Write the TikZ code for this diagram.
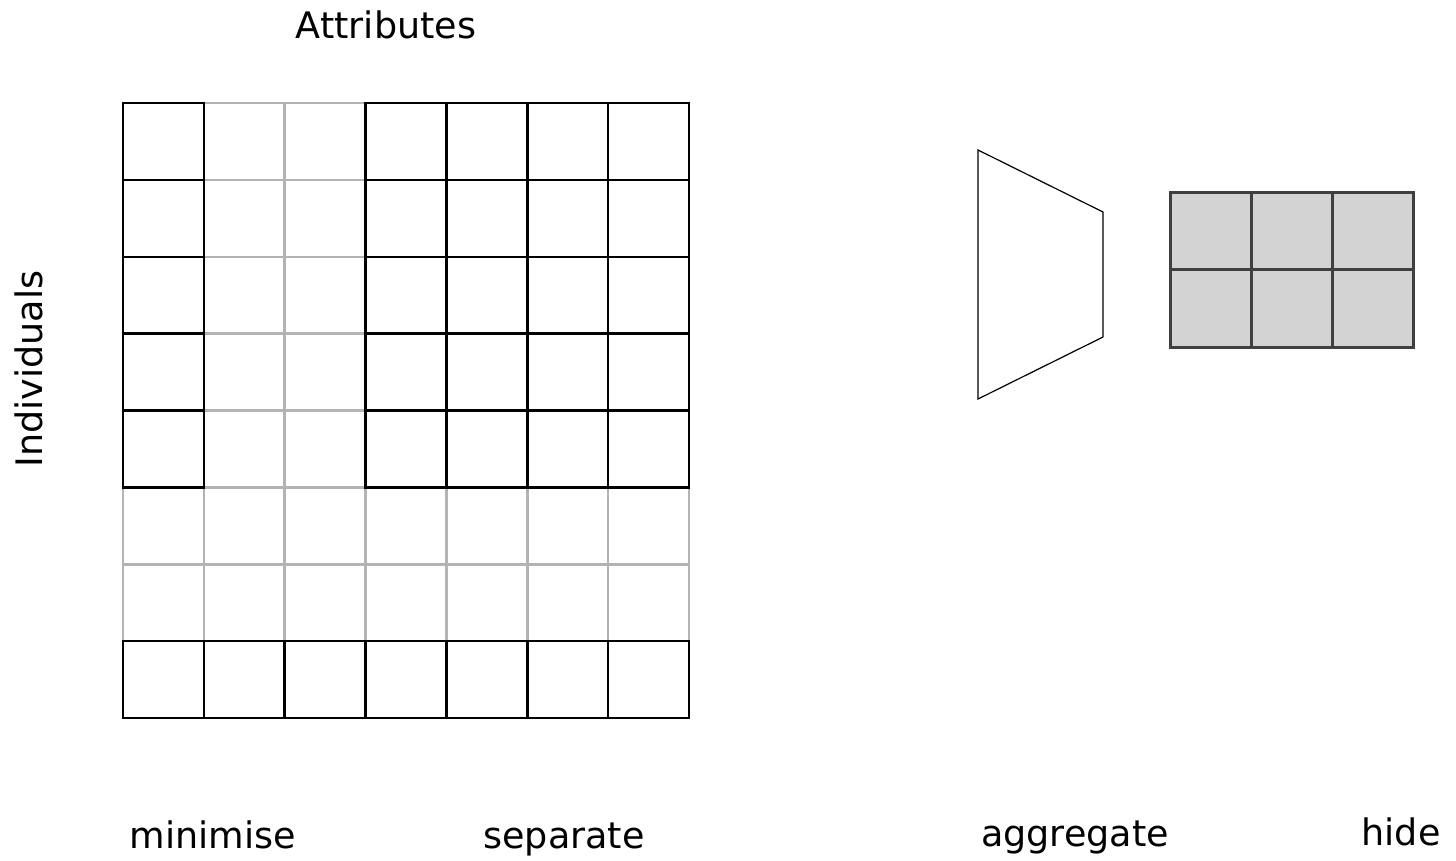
\documentclass[tikz,border=0pt]{standalone}
\usepackage{fontspec}
\setmainfont{DejaVu Sans}
\definecolor{lightline}{HTML}{B3B3B3}
\definecolor{cellfill}{HTML}{D3D3D3}
\definecolor{celldraw}{HTML}{404040}
\begin{document}
\begin{tikzpicture}[x=1pt,y=-1pt,
  label/.style={font=\fontsize{36.5}{40}\selectfont, inner sep=0pt, anchor=base},
  graycell/.style={draw=lightline, line width=2.5pt},
  blackcell/.style={draw=black, line width=2.5pt},
  hidecell/.style={draw=celldraw, fill=cellfill, line width=3pt},
  funnel/.style={draw=black, line width=1.2pt, line join=miter}]
\useasboundingbox (0,0) rectangle (1456,860);
% main grid: 7 columns x 8 rows
\def\gx{123}\def\gy{103}\def\cw{80.857}\def\ch{76.875}
% gray cells first
\foreach \c in {0,...,6}{
  \foreach \r in {0,...,7}{
    \draw[graycell] ({\gx+\c*\cw},{\gy+\r*\ch}) rectangle ++(\cw,\ch);
  }
}
% black cells: columns 0,3,4,5,6 in rows 0-4
\foreach \c in {0,3,4,5,6}{
  \foreach \r in {0,...,4}{
    \draw[blackcell] ({\gx+\c*\cw},{\gy+\r*\ch}) rectangle ++(\cw,\ch);
  }
}
% black bottom row
\foreach \c in {0,...,6}{
  \draw[blackcell] ({\gx+\c*\cw},{\gy+7*\ch}) rectangle ++(\cw,\ch);
}
% aggregate funnel
\draw[funnel] (978,150) -- (1103,212) -- (1103,337) -- (978,399) -- cycle;
% hidden grid 3x2
\foreach \c in {0,1,2}{
  \foreach \r in {0,1}{
    \draw[hidecell] ({1170+\c*81},{192+\r*77.5}) rectangle ++(81,77.5);
  }
}
% labels
\node[label] (attr) at (386,38) {Attributes};
\node[label, rotate=90] (indiv) at (42,369) {Individuals};
\node[label] (mini) at (213,848) {minimise};
\node[label] (sep) at (564,848) {separate};
\node[label] (agg) at (1075,846) {aggregate};
\node[label] (hide) at (1401,845) {hide};
\end{tikzpicture}
\end{document}
